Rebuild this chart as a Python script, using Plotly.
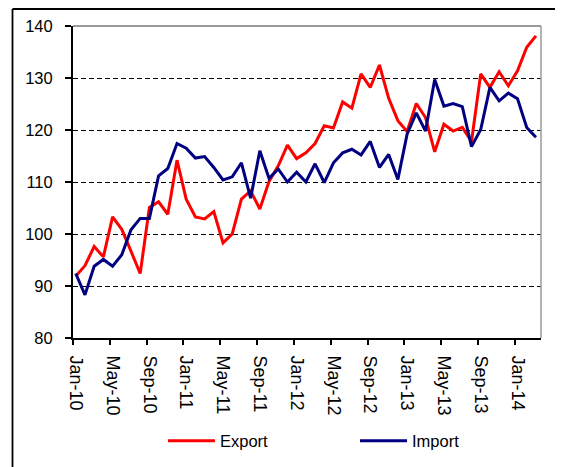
import plotly.graph_objects as go

months = ["Jan-10", "Feb-10", "Mar-10", "Apr-10", "May-10", "Jun-10", "Jul-10", "Aug-10", "Sep-10", "Oct-10", "Nov-10", "Dec-10",
          "Jan-11", "Feb-11", "Mar-11", "Apr-11", "May-11", "Jun-11", "Jul-11", "Aug-11", "Sep-11", "Oct-11", "Nov-11", "Dec-11",
          "Jan-12", "Feb-12", "Mar-12", "Apr-12", "May-12", "Jun-12", "Jul-12", "Aug-12", "Sep-12", "Oct-12", "Nov-12", "Dec-12",
          "Jan-13", "Feb-13", "Mar-13", "Apr-13", "May-13", "Jun-13", "Jul-13", "Aug-13", "Sep-13", "Oct-13", "Nov-13", "Dec-13",
          "Jan-14", "Feb-14", "Mar-14"]

export_vals = [91.9, 93.9, 97.6, 95.6, 103.3, 100.9, 96.7, 92.4, 105.1, 106.2, 103.8, 114.2,
               106.7, 103.3, 102.9, 104.3, 98.3, 100.0, 106.7, 108.3, 104.8, 110.1, 113.1, 117.1,
               114.5, 115.6, 117.4, 120.8, 120.4, 125.4, 124.2, 130.8, 128.2, 132.5, 126.1, 121.8,
               119.7, 125.1, 122.4, 115.8, 121.1, 119.8, 120.5, 117.8, 130.8, 128.2, 131.2, 128.5,
               131.4, 135.9, 138.1]

import_vals = [92.4, 88.3, 93.8, 95.1, 93.8, 96.0, 100.8, 103.0, 103.0, 111.2, 112.6, 117.4,
               116.5, 114.6, 114.9, 112.8, 110.4, 111.0, 113.7, 106.9, 116.0, 110.7, 112.5, 110.0,
               111.9, 110.0, 113.5, 109.9, 113.7, 115.6, 116.3, 115.2, 117.8, 112.8, 115.3, 110.5,
               119.2, 123.3, 119.8, 129.7, 124.6, 125.1, 124.5, 116.8, 120.1, 128.2, 125.6, 127.1,
               126.0, 120.5, 118.6]

tick_labels = ["Jan-10", "May-10", "Sep-10", "Jan-11", "May-11", "Sep-11", "Jan-12",
               "May-12", "Sep-12", "Jan-13", "May-13", "Sep-13", "Jan-14"]

y_ticks = [80, 90, 100, 110, 120, 130, 140]

x = list(range(len(months)))
tickvals = [months.index(t) for t in tick_labels]
AX_PAD = 0.3
tick_marks = [v - AX_PAD for v in tickvals]

fig = go.Figure()
fig.add_trace(go.Scatter(x=x, y=export_vals, mode="lines", name="Export",
                         line=dict(color="#FF0000", width=3), hovertext=months))
fig.add_trace(go.Scatter(x=x, y=import_vals, mode="lines", name="Import",
                         line=dict(color="#000080", width=3), hovertext=months))

# page has an 8px body margin; figure sized so the plot area lands where the reference has it
OFF = 8
L, R, T, B = 65, 22, 18, 129
W, H = 555, 459
pw, ph = W - L - R, H - T - B

def px(page_x):
    return (page_x - OFF - L) / pw

def py(page_y):
    return (H - B - (page_y - OFF)) / ph

def cx(page_x):
    return (page_x - OFF) / W

def cy(page_y):
    return 1 - (page_y - OFF) / H

fig.update_layout(
    width=W, height=H,
    margin=dict(l=L, r=R, t=T, b=B, pad=0, autoexpand=False),
    paper_bgcolor="white", plot_bgcolor="white",
    font=dict(family="Liberation Sans, Arial, sans-serif", color="black", size=16),
    showlegend=True,
    legend=dict(orientation="h", xref="container", yref="container",
                x=cx(163), y=cy(441), xanchor="left", yanchor="middle",
                font=dict(size=16.5), entrywidth=130, itemwidth=47,
                bgcolor="rgba(0,0,0,0)"),
    xaxis=dict(range=[-AX_PAD, len(months) - 1 + 0.55], tickmode="array", tickvals=tickvals,
               ticktext=tick_labels, ticks="", tickangle=90, tickfont=dict(size=18),
               ticklabelstandoff=12,
               showline=True, linecolor="black", linewidth=2, showgrid=False, zeroline=False,
               minor=dict(tickmode="array", tickvals=tick_marks, ticks="outside", ticklen=5,
                          tickwidth=1.5, tickcolor="black", showgrid=False)),
    yaxis=dict(range=[80, 140], tickmode="array", tickvals=y_ticks, ticks="outside",
               ticklen=6, tickwidth=1.5, tickcolor="black", tickfont=dict(size=16.5),
               ticklabelstandoff=9,
               showline=True, linecolor="black", linewidth=2, showgrid=True,
               gridcolor="black", gridwidth=1, griddash="5px,3px", zeroline=False),
    shapes=[
        dict(type="line", xref="paper", yref="paper", x0=0, x1=1, y0=1, y1=1,
             line=dict(color="#9a9a9a", width=2), layer="above"),
        dict(type="line", xref="paper", yref="paper", x0=1, x1=1, y0=0, y1=1,
             line=dict(color="#9a9a9a", width=1.5), layer="above"),
        dict(type="line", xref="paper", yref="paper", x0=px(12.5), x1=px(558.5), y0=py(9), y1=py(9),
             line=dict(color="black", width=1.8), layer="above"),
        dict(type="line", xref="paper", yref="paper", x0=px(12.5), x1=px(12.5), y0=py(9), y1=py(475),
             line=dict(color="black", width=1.8), layer="above"),
    ],
)

fig.write_html("out.html")
